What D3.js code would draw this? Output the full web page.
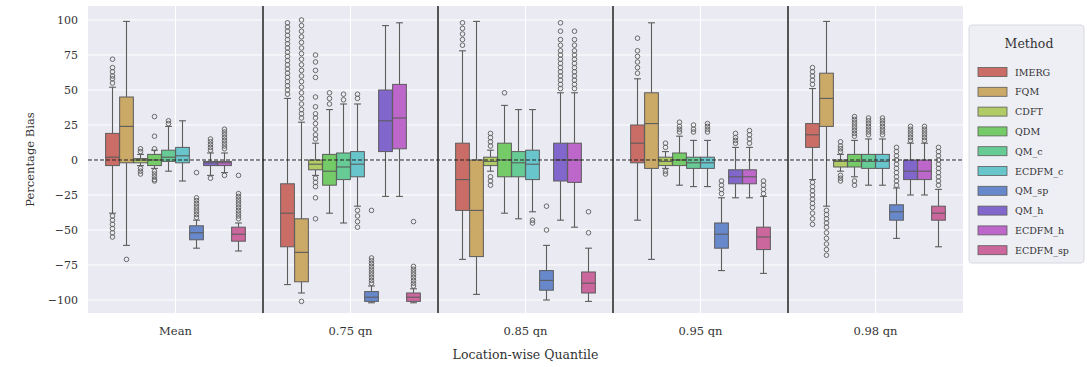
<!DOCTYPE html>
<html>
<head>
<meta charset="utf-8">
<script src="https://cdn.jsdelivr.net/npm/d3@7"></script>
<style>
  body { margin: 0; background: #fff; }
  text { font-family: "DejaVu Serif", "Liberation Serif", serif; }
</style>
</head>
<body>
<svg id="chart" width="1088" height="367"></svg>
<script>
// Categories
const quantiles = ["Mean", "0.75 qn", "0.85 qn", "0.95 qn", "0.98 qn"];
const methods = ["IMERG", "FQM", "CDFT", "QDM", "QM_c", "ECDFM_c", "QM_sp", "QM_h", "ECDFM_h", "ECDFM_sp"];
const yTicks = [-100, -75, -50, -25, 0, 25, 50, 75, 100];

// Box statistics: one row per quantile, one column per method
const whiskerLow = [
  [-38, -61, -4, -6, -8, -15, -63, -11, -9, -65],
  [-89, -95, -11, -38, -45, -33, -102, -26, -26, -102],
  [-71, -96, -8, -38, -42, -37, -100, -43, -48, -101],
  [-43, -71, -6, -18, -19, -19, -79, -27, -27, -81],
  [-14, -33, -8, -12, -18, -18, -56, -25, -25, -62]
];
const boxQ1 = [
  [-4, -2, -2, -4, -1, -2, -57, -4, -4, -58],
  [-62, -87, -7, -18, -14, -12, -101, 6, 8, -101],
  [-36, -69, -4, -12, -12, -14, -93, -15, -16, -95],
  [-2, -6, -4, -4, -6, -6, -63, -17, -17, -64],
  [9, 24, -5, -5, -6, -6, -43, -14, -14, -43]
];
const boxMedian = [
  [2, 24, 0, 0, 2, 3, -52, -2, -2, -53],
  [-38, -66, -3, -8, -5, -3, -98, 28, 30, -98],
  [-14, -36, -1, 0, -2, -3, -86, 0, 0, -88],
  [12, 26, -1, 0, -2, -2, -53, -12, -12, -55],
  [18, 44, -1, -1, -1, -1, -37, -8, -8, -38]
];
const boxQ3 = [
  [19, 45, 1, 4, 7, 9, -47, -1, -1, -48],
  [-17, -42, 0, 4, 5, 6, -94, 50, 54, -95],
  [12, 0, 2, 12, 6, 7, -79, 12, 12, -80],
  [25, 48, 2, 5, 2, 2, -45, -7, -7, -48],
  [26, 62, 0, 4, 4, 4, -32, 0, 0, -33]
];
const whiskerHigh = [
  [52, 99, 4, 7, 24, 28, -43, 5, 5, -45],
  [44, 27, 12, 36, 40, 40, -90, 96, 98, -92],
  [78, 99, 7, 39, 36, 36, -61, 48, 48, -63],
  [58, 98, 6, 17, 14, 14, -27, 9, 9, -26],
  [51, 99, 4, 14, 15, 15, -20, 12, 12, -21]
];
// Outlying points beyond the whiskers
const outliers = [
  [
    [55, 58, 60, 63, 66, 72, -40, -43, -46, -49, -52, -55],
    [-71],
    [6, 8, -6, -8, -10],
    [8, 17, 31, -8, -10, -12, -14, -15],
    [26, 28],
    [],
    [-41, -39, -37, -35, -33, -31, -29, -27, -9],
    [7, 9, 11, 13, 15, -13],
    [8, 10, 12, 14, 16, 18, 20, 22, -11],
    [-42, -40, -38, -36, -34, -32, -30, -28, -26, -24, -11]
  ],
  [
    [47, 50, 53, 56, 59, 62, 65, 68, 71, 74, 77, 80, 83, 86, 89, 92, 95, 98],
    [30, 33, 36, 40, 44, 48, 52, 56, 60, 64, 68, 72, 76, 80, 84, 88, 92, 96, 100, -101],
    [15, 18, 22, 26, 30, 33, 38, 45, 59, 64, 70, 75, -13, -16, -19, -27, -42],
    [40, 44, 48],
    [43, 47],
    [44, 47, -36, -40, -44, -48],
    [-88, -86, -84, -82, -80, -78, -76, -74, -72, -70, -36],
    [],
    [],
    [-90, -88, -86, -84, -82, -80, -78, -76, -44]
  ],
  [
    [82, 86, 90, 94, 98],
    [],
    [10, 13, 16, 19, -12, -15, -18],
    [48],
    [],
    [-43, -45],
    [-33, -50],
    [51, 54, 57, 60, 63, 66, 69, 72, 75, 78, 82, 86, 92, 98],
    [51, 54, 57, 60, 63, 66, 69, 72, 75, 78, 82, 86, 92],
    [-37, -52]
  ],
  [
    [62, 66, 70, 74, 78, 87],
    [],
    [9, 12, -8, -10],
    [20, 22, 24, 27],
    [20, 22, 25],
    [20, 22, 24, 26],
    [-15, -18, -21, -24],
    [12, 14, 16, 19],
    [12, 15, 18, 21],
    [-15, -18, -21, -24]
  ],
  [
    [54, 57, 60, 63, 66, -16, -19, -22, -25, -28, -31, -34, -38, -42, -46],
    [-36, -39, -42, -45, -48, -52, -56, -60, -64, -68],
    [6, 8, 10, 13, -11, -13, -15],
    [17, 19, 21, 23, 25, 27, 29, 31, -15, -18],
    [18, 20, 22, 24, 26, 28, 30],
    [18, 20, 22, 24, 26, 28, 30],
    [-18, -15, -12, -9, -6, -3, 0, 3, 6, 9],
    [14, 16, 18, 20, 22, 24],
    [14, 16, 18, 20, 22, 24],
    [-18, -15, -12, -9, -6, -3, 0, 3, 6, 9]
  ]
];

// Layout
const plot = { left: 88, right: 963, top: 6, bottom: 313 };
const svg = d3.select("#chart");

const x = d3.scaleBand().domain(quantiles).range([plot.left, plot.right]).padding(0);
const inner = d3.scaleBand().domain(methods)
  .range([x.bandwidth() * 0.1, x.bandwidth() * 0.9]).padding(0);
const y = d3.scaleLinear().domain([-109.3, 110]).range([plot.bottom, plot.top]);

// hls palette, desaturated for the boxes
const color = d3.scaleOrdinal().domain(methods)
  .range(methods.map((m, i) => {
    const h = ((0.01 + i / methods.length) % 1) * 360;
    return d3.hsl(h, 0.65 * 0.75, 0.6).formatHex();
  }));
const lineGray = "#5c5c5c";

// Axes background and grid
svg.append("rect")
  .attr("x", plot.left).attr("y", plot.top)
  .attr("width", plot.right - plot.left).attr("height", plot.bottom - plot.top)
  .attr("fill", "#eaeaf2");

svg.append("g").selectAll("line").data(yTicks).join("line")
  .attr("x1", plot.left).attr("x2", plot.right)
  .attr("y1", d => y(d)).attr("y2", d => y(d))
  .attr("stroke", "#fff").attr("stroke-width", 1);

svg.append("g").selectAll("line").data(quantiles).join("line")
  .attr("x1", d => x(d) + x.bandwidth() / 2).attr("x2", d => x(d) + x.bandwidth() / 2)
  .attr("y1", plot.top).attr("y2", plot.bottom)
  .attr("stroke", "#fff").attr("stroke-width", 1);

// Boxes
const records = [];
quantiles.forEach((q, gi) => {
  methods.forEach((m, mi) => {
    records.push({
      q, m,
      lo: whiskerLow[gi][mi], q1: boxQ1[gi][mi], med: boxMedian[gi][mi],
      q3: boxQ3[gi][mi], hi: whiskerHigh[gi][mi], out: outliers[gi][mi]
    });
  });
});

const bw = inner.bandwidth();
const boxW = bw * 0.98;
const boxes = svg.append("g").selectAll("g").data(records).join("g")
  .attr("transform", d => `translate(${x(d.q) + inner(d.m) + bw / 2},0)`);

// whiskers
boxes.append("line")
  .attr("x1", 0).attr("x2", 0)
  .attr("y1", d => y(d.q3)).attr("y2", d => y(d.hi))
  .attr("stroke", lineGray).attr("stroke-width", 1.1);
boxes.append("line")
  .attr("x1", 0).attr("x2", 0)
  .attr("y1", d => y(d.q1)).attr("y2", d => y(d.lo))
  .attr("stroke", lineGray).attr("stroke-width", 1.1);
// caps
boxes.append("line")
  .attr("x1", -boxW / 4).attr("x2", boxW / 4)
  .attr("y1", d => y(d.hi)).attr("y2", d => y(d.hi))
  .attr("stroke", lineGray).attr("stroke-width", 1.1);
boxes.append("line")
  .attr("x1", -boxW / 4).attr("x2", boxW / 4)
  .attr("y1", d => y(d.lo)).attr("y2", d => y(d.lo))
  .attr("stroke", lineGray).attr("stroke-width", 1.1);
// box body
boxes.append("rect")
  .attr("x", -boxW / 2).attr("width", boxW)
  .attr("y", d => y(d.q3)).attr("height", d => Math.max(1, y(d.q1) - y(d.q3)))
  .attr("fill", d => color(d.m))
  .attr("stroke", lineGray).attr("stroke-width", 1);
// median
boxes.append("line")
  .attr("x1", -boxW / 2).attr("x2", boxW / 2)
  .attr("y1", d => y(d.med)).attr("y2", d => y(d.med))
  .attr("stroke", lineGray).attr("stroke-width", 1.1);
// fliers
boxes.selectAll("circle").data(d => d.out).join("circle")
  .attr("cx", 0).attr("cy", v => y(v)).attr("r", 2.3)
  .attr("fill", "none").attr("stroke", lineGray).attr("stroke-width", 0.9);

// Separators between quantile groups
svg.append("g").selectAll("line").data(quantiles.slice(1)).join("line")
  .attr("x1", d => x(d)).attr("x2", d => x(d))
  .attr("y1", plot.top).attr("y2", plot.bottom)
  .attr("stroke", "#555").attr("stroke-width", 2);

// Zero reference line
svg.append("line")
  .attr("x1", plot.left).attr("x2", plot.right)
  .attr("y1", y(0)).attr("y2", y(0))
  .attr("stroke", "#222").attr("stroke-width", 1)
  .attr("stroke-dasharray", "4,2");

// Axes
const yAxis = svg.append("g").attr("transform", `translate(${plot.left},0)`)
  .call(d3.axisLeft(y).tickValues(yTicks).tickSize(0).tickPadding(10));
yAxis.select(".domain").remove();
yAxis.selectAll("text").attr("font-size", 11).attr("fill", "#333")
  .style("font-family", '"DejaVu Serif", serif');

const xAxis = svg.append("g").attr("transform", `translate(0,${plot.bottom})`)
  .call(d3.axisBottom(x).tickSize(0).tickPadding(14));
xAxis.select(".domain").remove();
xAxis.selectAll("text").attr("font-size", 11.5).attr("fill", "#333")
  .style("font-family", '"DejaVu Serif", serif');

svg.append("text")
  .attr("x", (plot.left + plot.right) / 2).attr("y", 359)
  .attr("text-anchor", "middle").attr("font-size", 12.5).attr("fill", "#333")
  .text("Location-wise Quantile");

svg.append("text")
  .attr("transform", `translate(34,${(plot.top + plot.bottom) / 2}) rotate(-90)`)
  .attr("text-anchor", "middle").attr("font-size", 11.5).attr("fill", "#333")
  .text("Percentage Bias");

// Legend
const legend = svg.append("g").attr("transform", "translate(969,25)");
legend.append("rect")
  .attr("width", 115).attr("height", 238).attr("rx", 3)
  .attr("fill", "#eaeaf2").attr("fill-opacity", 0.8)
  .attr("stroke", "#d8d8e0");
legend.append("text")
  .attr("x", 60).attr("y", 23)
  .attr("text-anchor", "middle").attr("font-size", 12.5).attr("fill", "#333")
  .text("Method");
const items = legend.selectAll("g.item").data(methods).join("g")
  .attr("class", "item")
  .attr("transform", (d, i) => `translate(9,${47 + i * 19.8})`);
items.append("rect")
  .attr("width", 29).attr("height", 9).attr("y", -4.5)
  .attr("fill", d => color(d)).attr("stroke", lineGray).attr("stroke-width", 0.8);
items.append("text")
  .attr("x", 37).attr("y", 3.5)
  .attr("font-size", 9.5).attr("fill", "#333")
  .text(d => d);
</script>
</body>
</html>
